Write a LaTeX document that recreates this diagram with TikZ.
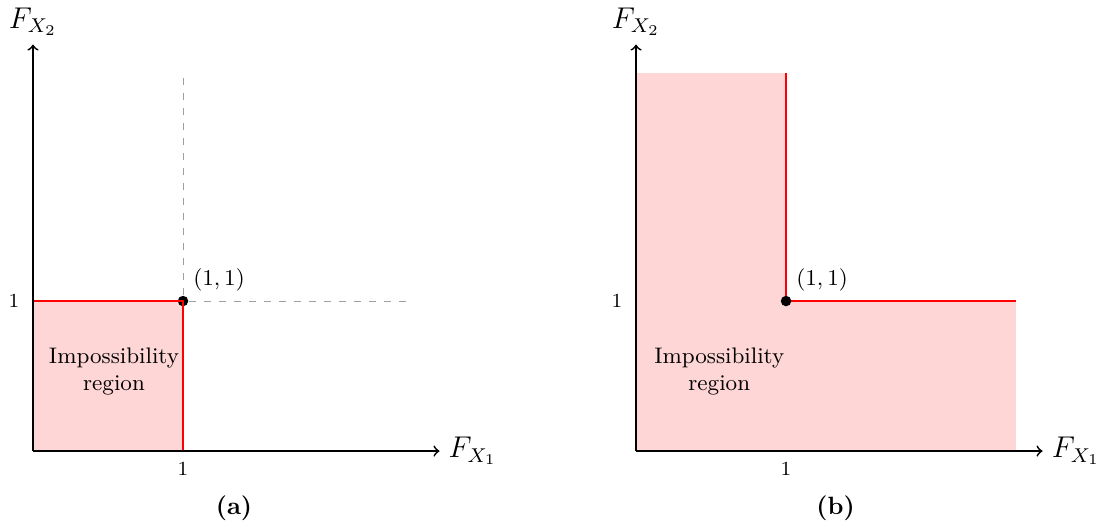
\documentclass[tikz,border=0pt]{standalone}
\usetikzlibrary{positioning}

\tikzset{
	eje/.style={->, line width=0.7pt},
	borde/.style={red, thick},
	zona/.style={fill=red!16},
	guia/.style={dashed, gray!75},
	punto/.style={circle, fill, inner sep=0pt, minimum size=4.2pt},
}

\begin{document}
\begin{tikzpicture}[x=60pt, y=60pt]
\useasboundingbox (-0.22,-0.507) rectangle (7.153,3.007);

% Panel (a)
\begin{scope}
	\fill[zona] (0,0) rectangle (1,1);
	\coordinate (Oa) at (0,0);
	\coordinate (Xa) at (2.71,0);
	\coordinate (Ya) at (0,2.71);
	\coordinate (Ga) at (1,2.52);
	\coordinate (Ha) at (2.51,1);
	\coordinate (Ba) at (0,1);
	\coordinate (Ca) at (1,0);
	\node[punto] (Pa) at (1,1) {};

	\draw[guia] (Pa) -- (Ga);
	\draw[guia] (Pa) -- (Ha);
	\draw[borde] (Ba) -- (Pa.center) -- (Ca);

	\draw[eje] (Oa) -- (Xa) node[right] (Fxa) {\large $F_{X_1}$};
	\draw[eje] (Oa) -- (Ya) node[above] (Fya) {\large $F_{X_2}$};

	\node[left=2pt of Ba, font=\footnotesize] (ta) {1};
	\node[below=1pt of Ca, font=\footnotesize] (sa) {1};
	\node[above right=-1pt and -1pt of Pa, font=\small] (la) {$(1,1)$};
	\node[align=center, font=\small] (Ra) at (0.54,0.53) {Impossibility\\region};
	\node (Ta) at (1.34,-0.38) {\textbf{(a)}};
\end{scope}

% Panel (b)
\begin{scope}[shift={(4.02,0)}]
	\fill[zona] (0,0) rectangle (2.53,1);
	\fill[zona] (0,0) rectangle (1,2.52);
	\coordinate (Ob) at (0,0);
	\coordinate (Xb) at (2.71,0);
	\coordinate (Yb) at (0,2.71);
	\coordinate (Gb) at (1,2.52);
	\coordinate (Hb) at (2.53,1);
	\coordinate (Bb) at (0,1);
	\coordinate (Cb) at (1,0);

	\draw[borde] (Gb) -- (1,1) -- (Hb);
	\node[punto] (Pb) at (1,1) {};

	\draw[eje] (Ob) -- (Xb) node[right] (Fxb) {\large $F_{X_1}$};
	\draw[eje] (Ob) -- (Yb) node[above] (Fyb) {\large $F_{X_2}$};

	\node[left=2pt of Bb, font=\footnotesize] (tb) {1};
	\node[below=1pt of Cb, font=\footnotesize] (sb) {1};
	\node[above right=-1pt and -1pt of Pb, font=\small] (lb) {$(1,1)$};
	\node[align=center, font=\small] (Rb) at (0.555,0.53) {Impossibility\\region};
	\node (Tb) at (1.33,-0.38) {\textbf{(b)}};
\end{scope}
\end{tikzpicture}
\end{document}
